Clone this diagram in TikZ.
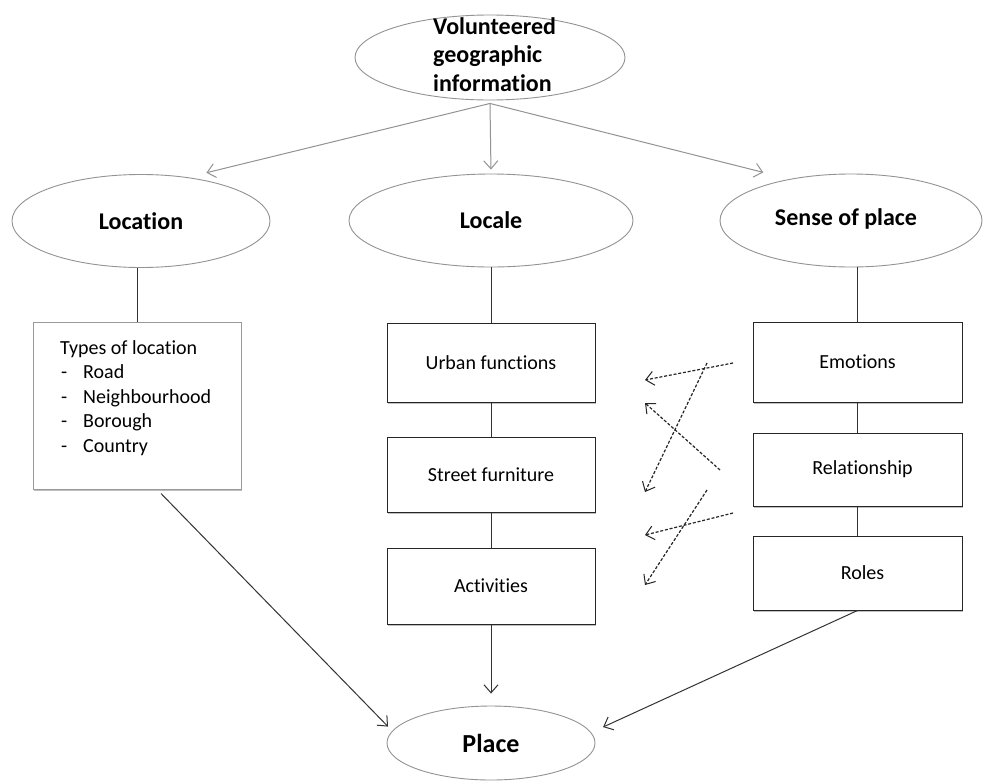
\documentclass[tikz,border=0pt]{standalone}
\usepackage{fontspec}
\setmainfont{Carlito}[Ligatures={NoCommon}]
\usetikzlibrary{arrows.meta,calc,shapes.geometric,shadows}
\tikzset{
  ell/.style={ellipse, draw=gray!85, line width=0.9pt, inner sep=0pt, font=\bfseries\fontsize{24}{28.5}\selectfont},
  boxn/.style={rectangle, draw=black!85, fill=white, line width=1pt, inner sep=0pt, minimum width=208pt,
    font=\fontsize{20}{24.5}\selectfont,
    drop shadow={shadow xshift=1.2pt, shadow yshift=-1.5pt, opacity=0.25, fill=black}},
  con/.style={draw=black!80, line width=1pt},
  tip/.style={-{Straight Barb[length=8pt,width=14pt,line width=1pt]}},
  arr/.style={con, tip},
  garr/.style={draw=gray!85, line width=1pt, tip},
  darr/.style={draw=black!85, line width=1.2pt, dash pattern=on 3pt off 1.8pt, tip}
}
\begin{document}
\begin{tikzpicture}[x=1pt,y=-1pt]
\fill[white] (0,0) rectangle (984,782);
\useasboundingbox (0,0) rectangle (984,782);

% ellipses
\node[ell, minimum width=270pt, minimum height=85pt] (vgi) at (490,57.5) {};
\node[anchor=north west, inner sep=0pt, align=left, font=\bfseries\fontsize{24}{28.5}\selectfont] (vgitext) at (433,17) {Volunteered\\geographic\\information};
\node[ell, minimum width=258pt, minimum height=93pt] (locell) at (141,221) {Location};
\node[ell, minimum width=284pt, minimum height=93pt] (locale) at (491,220.5) {Locale};
\node[ell, minimum width=262pt, minimum height=93pt] (sense) at (851,220.5) {};
\node[inner sep=0pt, font=\bfseries\fontsize{24}{28.5}\selectfont] (sensetext) at (846,219) {Sense of place};
\node[ell, minimum width=208pt, minimum height=74pt, font=\bfseries\fontsize{26}{30}\selectfont] (place) at (491,743) {Place};

% location box
\node[boxn, draw=gray!80, minimum height=167pt] (locbox) at (137,405.5) {};
\node[anchor=north west, inner sep=0pt, align=left, font=\fontsize{20}{24.5}\selectfont] (loctext) at (60,340)
  {Types of location\\
   \makebox[23pt][l]{\hspace{1pt}-}Road\\
   \makebox[23pt][l]{\hspace{1pt}-}Neighbourhood\\
   \makebox[23pt][l]{\hspace{1pt}-}Borough\\
   \makebox[23pt][l]{\hspace{1pt}-}Country};

% locale boxes
\node[boxn, minimum height=79pt] (urban) at (491,362.5) {Urban functions};
\node[boxn, minimum height=75pt] (street) at (491,474.5) {Street furniture};
\node[boxn, minimum height=76pt] (activ) at (491,586) {Activities};

% sense boxes
\node[boxn, minimum width=209pt, minimum height=80pt] (emo) at (857.5,362) {Emotions};
\node[boxn, minimum width=209pt, minimum height=73pt] (rel) at (857.5,469.5) {\hspace{10pt}Relationship};
\node[boxn, minimum width=209pt, minimum height=74pt] (roles) at (857.5,573) {\hspace{10pt}Roles};

% top arrows
\draw[garr, shorten >=19pt] ($(vgi.south)+(0,3)$) -- (locell.43);
\draw[garr, shorten >=4pt] ($(vgi.south)+(0,3)$) -- (locale.north);
\draw[garr, shorten >=27pt] ($(vgi.south)+(0,3)$) -- (sense.146.5);

% vertical connectors
\draw[con] (locbox.north) -- (locbox.north |- locell.south);
\draw[con] (urban.north -| locale.south) -- (locale.south);
\draw[con] (urban.south) -- (street.north);
\draw[con] (street.south) -- (activ.north);
\draw[con] (emo.north) -- (emo.north |- sense.south);
\draw[con] (emo.south) -- (rel.north);
\draw[con] (rel.south) -- (roles.north);

% arrows to place
\draw[arr, shorten >=12pt] (activ.south) -- (place.north);
\draw[arr, shorten >=6pt] ($(locbox.south)+(24,4)$) -- (place.173);
\draw[arr, shorten >=13pt] (roles.south) -- (place.6);

% dashed arrows
\coordinate (d1s) at (733,363); \coordinate (d1e) at (645,380);
\coordinate (d2s) at (720,470); \coordinate (d2e) at (645,403);
\coordinate (d3s) at (707,363); \coordinate (d3e) at (645,492);
\coordinate (d4s) at (733,513); \coordinate (d4e) at (645,535);
\coordinate (d5s) at (707,490); \coordinate (d5e) at (645,585);
\draw[darr] (d1s) -- (d1e);
\draw[darr] (d2s) -- (d2e);
\draw[darr] (d3s) -- (d3e);
\draw[darr] (d4s) -- (d4e);
\draw[darr] (d5s) -- (d5e);
\end{tikzpicture}
\end{document}
